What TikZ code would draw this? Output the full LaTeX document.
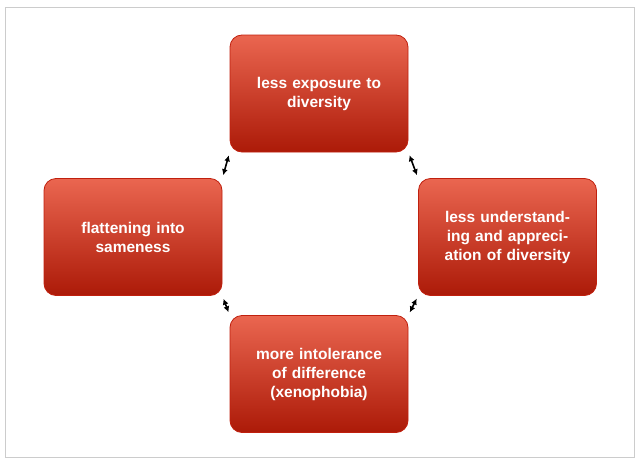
\documentclass[tikz,border=0pt]{standalone}
\usepackage{fontspec}
\setmainfont{Liberation Sans}
\usetikzlibrary{arrows.meta,shadings}
\definecolor{boxtop}{HTML}{EA6650}
\definecolor{boxbot}{HTML}{AC1A08}
\definecolor{boxline}{HTML}{C0200E}
\tikzset{
  cyclebox/.style={
    rectangle, rounded corners=12pt,
    minimum width=178pt, minimum height=117pt,
    text width=165pt, align=center,
    top color=boxtop, bottom color=boxbot,
    draw=boxline, line width=0.8pt,
    font=\fontsize{15.5}{19}\selectfont\bfseries, text=white
  },
  link/.style={{Latex[length=6pt,width=6pt]}-{Latex[length=6pt,width=6pt]}, line width=1.6pt, shorten <=3pt, shorten >=3pt}
}
\begin{document}
\begin{tikzpicture}[x=1pt, y=-1pt]
    \useasboundingbox (0,0) rectangle (640,463);
    \draw[black!20, line width=0.8pt] (5,7) rectangle (634,457);

    \node[cyclebox] (top) at (319,93.5) {less exposure to\\diversity};
    \node[cyclebox] (right) at (507.5,237) {less understanding and appreciation of diversity};
    \node[cyclebox] (bottom) at (319,374) {more intolerance of difference (xenophobia)};
    \node[cyclebox] (left) at (133,237) {flattening into\\sameness};

    %% Links
    \draw[link] (left.north east) -- (top.south west);
    \draw[link] (top.south east) -- (right.north west);
    \draw[link] (right.south west) -- (bottom.north east);
    \draw[link] (bottom.north west) -- (left.south east);
\end{tikzpicture}
\end{document}
